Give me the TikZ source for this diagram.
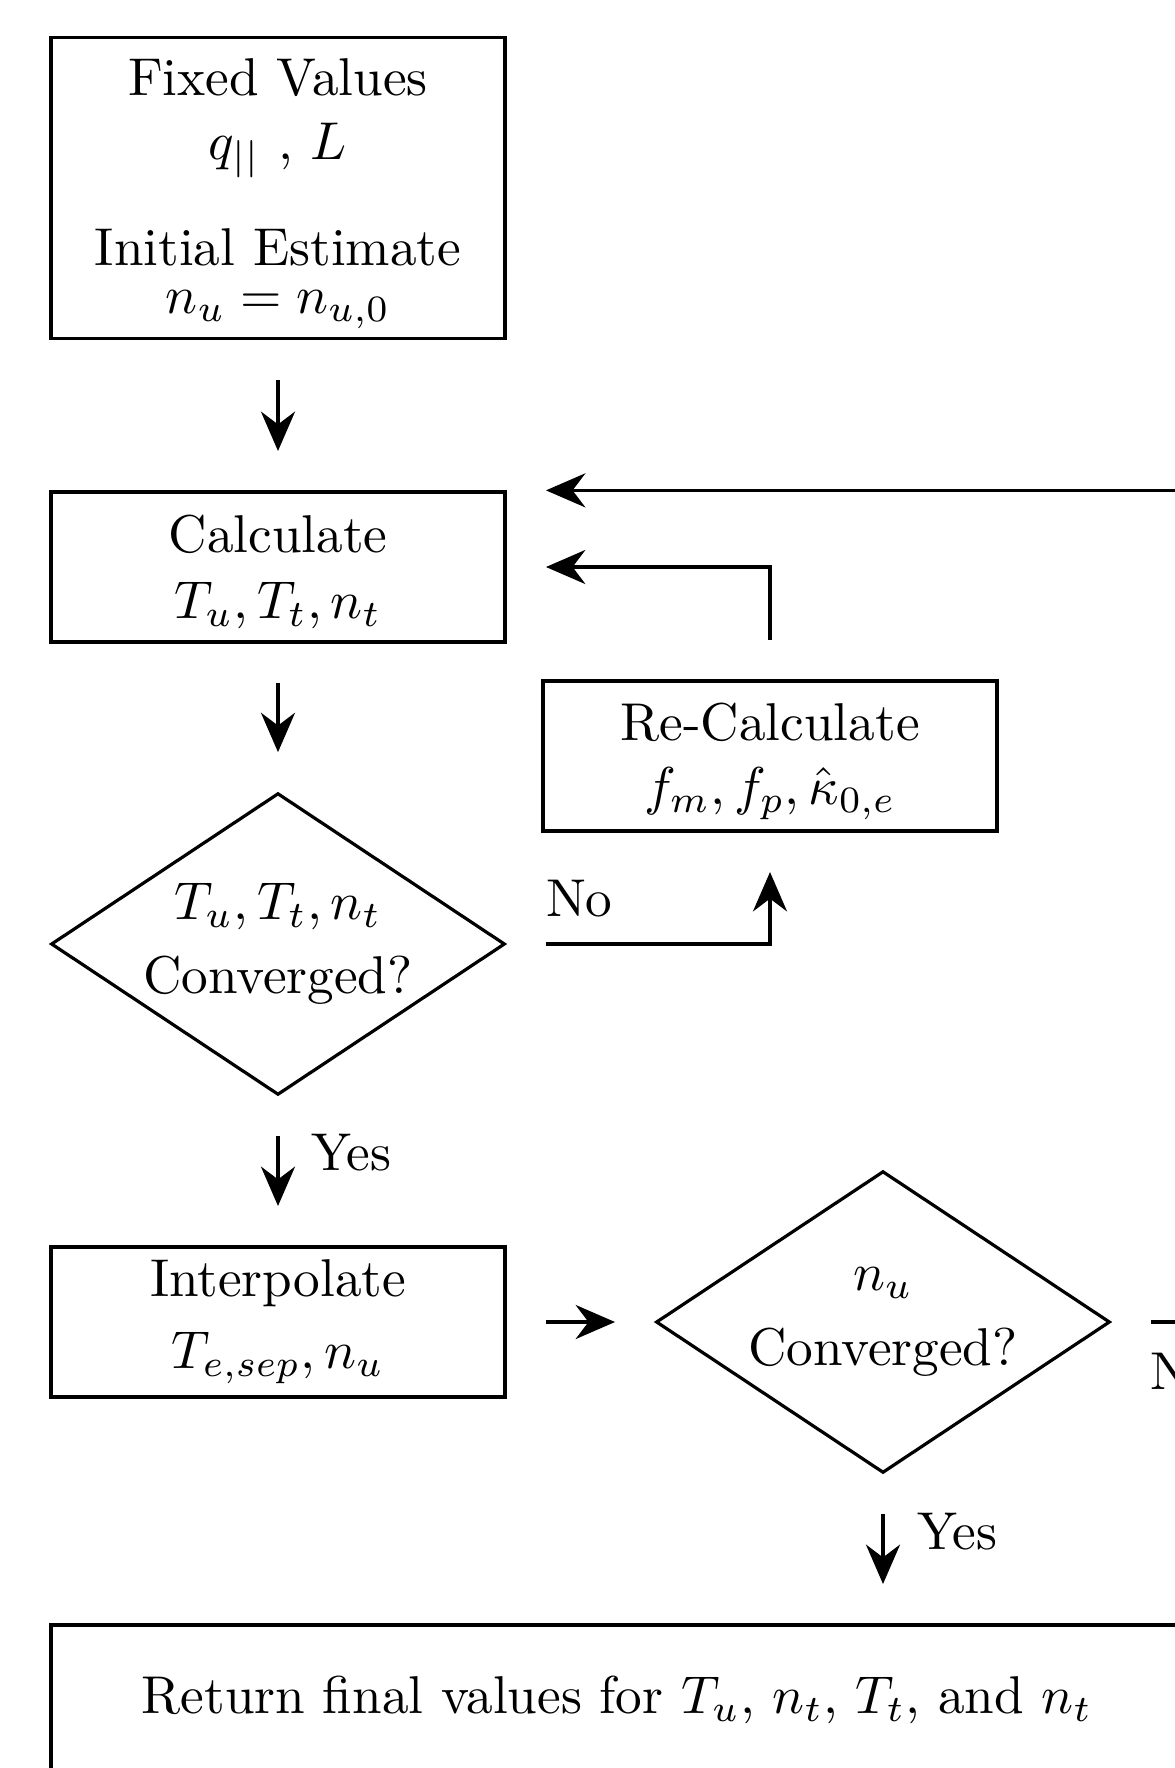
\documentclass[tikz,border=0pt]{standalone}
\usetikzlibrary{shapes.geometric,arrows.meta}
\begin{document}
\begin{tikzpicture}[x=0.1879pt,y=-0.1879pt,
  box/.style={draw, line width=0.6pt, rectangle, align=center, minimum width=85.3pt, inner sep=0pt},
  dia/.style={draw, line width=0.6pt, diamond, aspect=1.503, minimum width=85.3pt, minimum height=56.7pt, inner sep=0pt, align=center},
  arr/.style={line width=0.6pt, -{Stealth[length=7.4pt,width=6.4pt]}, shorten <=7.4pt, shorten >=7.4pt},
  lbl/.style={inner sep=0pt}]
\useasboundingbox (0,0) rectangle (1175,1768);
\node[box, minimum height=56.7pt] (init) at (278,188)
  {\rule{0pt}{9pt}Fixed Values\\ $q_{||}$ , $L$\\[8pt] Initial Estimate\\[-3pt] $n_u = n_{u,0}$};
\node[box, minimum height=28.2pt] (calc) at (278,567)
  {\rule{0pt}{9pt}Calculate\\[0.35pt] $T_u, T_t, n_t$};
\node[box, minimum height=28.2pt] (rc) at (770,756)
  {\rule{0pt}{9pt}Re-Calculate\\ $f_m, f_p, \hat{\kappa}_{0,e}$};
\node[dia] (d1) at (278,944) {$T_u, T_t, n_t$\\[2pt] Converged?};
\node[box, minimum height=28.2pt] (interp) at (278,1322)
  {Interpolate\\[1.5pt] $T_{e,sep}, n_u$};
\node[dia] (d2) at (883,1322) {$n_u$\\[2pt] Converged?};
\node[box, minimum width=212.7pt, minimum height=28.2pt] (final) at (617,1700)
  {Return final values for $T_u$, $n_t$, $T_t$, and $n_t$};
\coordinate (far) at (1400,1322);

\draw[arr] (init) -- (calc);
\draw[arr] (calc) -- (d1);
\draw[arr] (d1) -- (interp);
\draw[arr] (interp) -- (d2);
\draw[arr] (d2.south) -- (d2.south |- final.north);
\draw[arr] (d1.east) -- (d1.east -| rc.south) -- (rc.south);
\draw[arr] (rc.north) -- (rc.north |- calc.east) -- (calc.east);
\draw[arr] (d2.east) -- (far) -- (far |- calc.north east) -- (calc.north east);

\node[lbl, anchor=base west] (no1) at (545,916) {No};
\node[lbl, anchor=base west] (yes1) at (310,1170) {Yes};
\node[lbl, anchor=base west] (yes2) at (916,1549) {Yes};
\node[lbl, anchor=base west] (no2) at (1149,1389) {No};
\end{tikzpicture}
\end{document}
